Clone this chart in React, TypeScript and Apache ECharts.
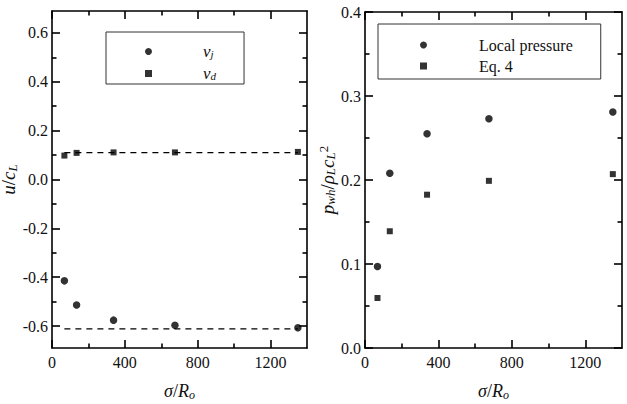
import React, { useEffect, useRef } from "react";
import * as echarts from "echarts";

// ---- data ----
const sigmaRatio = [68, 135, 338, 675, 1350];
const vj = [-0.415, -0.514, -0.576, -0.597, -0.607];
const vd = [0.098, 0.109, 0.111, 0.111, 0.113];
const vjLimit = -0.612;
const vdLimit = 0.11;
const localPressure = [0.097, 0.208, 0.255, 0.273, 0.281];
const eq4 = [0.0595, 0.139, 0.1825, 0.199, 0.207];

// ---- ticks ----
const xMajorTicks = [0, 400, 800, 1200];
const xMinorTicks = [200, 600, 1000];
const leftYMajor = [-0.6, -0.4, -0.2, 0, 0.2, 0.4, 0.6];
const leftYMinor = [-0.5, -0.3, -0.1, 0.1, 0.3, 0.5];
const rightYMajor = [0, 0.1, 0.2, 0.3, 0.4];
const rightYMinor = [0.05, 0.15, 0.25, 0.35];

const SERIF = "'Liberation Serif', 'DejaVu Serif', serif";
const INK = "#111";
const AXIS_W = 1.6;

function axisSet(
  dim: "x" | "y",
  gridIndex: number,
  min: number,
  max: number,
  major: number[],
  minor: number[],
  labelFmt: (v: number) => string,
  name: string,
  nameGap: number,
  rich: any
) {
  const pos = dim === "x" ? ["bottom", "top"] : ["left", "right"];
  const res: any[] = [];
  pos.forEach((p, k) => {
    res.push({
      type: "value",
      gridIndex,
      position: p,
      min,
      max,
      name: k === 0 ? name : "",
      nameLocation: "middle",
      nameGap,
      nameTextStyle: { rich, fontFamily: SERIF, fontSize: 17, color: INK },
      axisLine: { show: true, onZero: false, lineStyle: { color: "#000", width: AXIS_W } },
      axisTick: {
        show: true,
        inside: true,
        length: 8,
        customValues: major,
        lineStyle: { color: "#000", width: AXIS_W },
      },
      axisLabel: {
        show: k === 0,
        customValues: major,
        margin: dim === "x" ? 6 : 4,
        fontFamily: SERIF,
        fontSize: 16,
        color: INK,
        formatter: labelFmt,
      },
      splitLine: { show: false },
    });
    res.push({
      type: "value",
      gridIndex,
      position: p,
      min,
      max,
      axisLine: { show: false, onZero: false },
      axisTick: {
        show: true,
        inside: true,
        length: 4.5,
        customValues: minor,
        lineStyle: { color: "#000", width: AXIS_W },
      },
      axisLabel: { show: false },
      splitLine: { show: false },
    });
  });
  return res;
}

const xNameRich = {
  i: { fontFamily: SERIF, fontStyle: "italic", fontSize: 18, color: INK, lineHeight: 20 },
  n: { fontFamily: SERIF, fontSize: 18, color: INK, lineHeight: 20 },
  sub: { fontFamily: SERIF, fontStyle: "italic", fontSize: 12, color: INK, verticalAlign: "bottom", lineHeight: 20 },
  sup: { fontFamily: SERIF, fontSize: 12, color: INK, verticalAlign: "top", lineHeight: 20 },
};
const yNameRich = {
  i: { fontFamily: SERIF, fontStyle: "italic", fontSize: 19, color: INK, lineHeight: 20 },
  n: { fontFamily: SERIF, fontSize: 19, color: INK, lineHeight: 20 },
  sub: { fontFamily: SERIF, fontStyle: "italic", fontSize: 13, color: INK, verticalAlign: "bottom", lineHeight: 20 },
  sup: { fontFamily: SERIF, fontSize: 13, color: INK, verticalAlign: "top", lineHeight: 20 },
};

export default function App() {
  const ref = useRef<HTMLDivElement>(null);
  useEffect(() => {
    if (!ref.current) return;
    const chart = echarts.init(ref.current, null, { renderer: "svg" });
    const fmtX = (v: number) => String(Math.round(v));
    const fmtY = (v: number) => v.toFixed(1);
    const xAxes = [
      ...axisSet("x", 0, 0, 1400, xMajorTicks, xMinorTicks, fmtX, "{i|σ}{n|/}{i|R}{sub|o}", 33, xNameRich),
      ...axisSet("x", 1, 0, 1400, xMajorTicks, xMinorTicks, fmtX, "{i|σ}{n|/}{i|R}{sub|o}", 33, xNameRich),
    ];
    const yAxes = [
      ...axisSet("y", 0, -0.69, 0.69, leftYMajor, leftYMinor, fmtY, "{i|u}{n|/}{i|c}{sub|L}", 22, yNameRich),
      ...axisSet(
        "y",
        1,
        0,
        0.4,
        rightYMajor,
        rightYMinor,
        fmtY,
        "{i|p}{sub|wh}{n|/}{i|ρ}{sub|L}{i|c}{sub|L}{sup|2}",
        25,
        yNameRich
      ),
    ];
    const pts = (ys: number[]) => sigmaRatio.map((x, i) => [x, ys[i]]);
    const hline = (v: number) => [
      [sigmaRatio[0], v],
      [sigmaRatio[sigmaRatio.length - 1], v],
    ];
    const dashed = { type: [6, 5], color: "#000", width: 1.2 };
    const legendRich = {
      pad: { width: 46, lineHeight: 16 },
      i: { fontFamily: SERIF, fontStyle: "italic", fontSize: 17, color: INK, lineHeight: 16 },
      sub: { fontFamily: SERIF, fontStyle: "italic", fontSize: 11, color: INK, verticalAlign: "bottom", lineHeight: 16 },
      t: { fontFamily: SERIF, fontSize: 16, color: INK, lineHeight: 16 },
      pad2: { width: 47, lineHeight: 16 },
    };
    chart.setOption({
      animation: false,
      backgroundColor: "#fff",
      textStyle: { fontFamily: SERIF },
      grid: [
        { left: 52, top: 11, width: 255, height: 337, outerBoundsMode: "none", containLabel: false },
        { left: 365, top: 12, width: 257, height: 336, outerBoundsMode: "none", containLabel: false },
      ],
      xAxis: xAxes,
      yAxis: yAxes,
      legend: [
        {
          left: 106,
          top: 32,
          orient: "vertical",
          data: [
            { name: "vj", icon: "circle" },
            { name: "vd", icon: "rect" },
          ],
          borderColor: "#333",
          borderWidth: 1,
          padding: [11, 28, 2, 39],
          itemGap: 5,
          itemWidth: 7,
          itemHeight: 7,
          selectedMode: false,
          formatter: (n: string) => (n === "vj" ? "{pad| }{i|v}{sub|j}" : "{pad| }{i|v}{sub|d}"),
          textStyle: { rich: legendRich },
        },
        {
          left: 378,
          top: 24,
          orient: "vertical",
          data: [
            { name: "Local pressure", icon: "circle" },
            { name: "Eq. 4", icon: "rect" },
          ],
          borderColor: "#333",
          borderWidth: 1,
          padding: [13, 28, 5, 42],
          itemGap: 5,
          itemWidth: 7,
          itemHeight: 7,
          selectedMode: false,
          formatter: (n: string) => "{pad2| }{t|" + n + "}",
          textStyle: { rich: legendRich },
        },
      ],
      series: [
        {
          type: "scatter",
          name: "vj",
          xAxisIndex: 0,
          yAxisIndex: 0,
          data: pts(vj),
          symbol: "circle",
          symbolSize: 7.5,
          itemStyle: { color: "#000" },
        },
        {
          type: "scatter",
          name: "vd",
          xAxisIndex: 0,
          yAxisIndex: 0,
          data: pts(vd),
          symbol: "rect",
          symbolSize: 6,
          itemStyle: { color: "#000" },
        },
        {
          type: "line",
          name: "vjLimit",
          xAxisIndex: 0,
          yAxisIndex: 0,
          data: hline(vjLimit),
          showSymbol: false,
          lineStyle: dashed,
          silent: true,
          z: 1,
        },
        {
          type: "line",
          name: "vdLimit",
          xAxisIndex: 0,
          yAxisIndex: 0,
          data: hline(vdLimit),
          showSymbol: false,
          lineStyle: dashed,
          silent: true,
          z: 1,
        },
        {
          type: "scatter",
          name: "Local pressure",
          xAxisIndex: 4,
          yAxisIndex: 4,
          data: pts(localPressure),
          symbol: "circle",
          symbolSize: 7.5,
          itemStyle: { color: "#000" },
        },
        {
          type: "scatter",
          name: "Eq. 4",
          xAxisIndex: 4,
          yAxisIndex: 4,
          data: pts(eq4),
          symbol: "rect",
          symbolSize: 6,
          itemStyle: { color: "#000" },
        },
      ],
    });
    return () => chart.dispose();
  }, []);
  return (
    <div
      ref={ref}
      style={{ position: "absolute", left: 0, top: 0, width: 627, height: 404, background: "#fff" }}
    />
  );
}
